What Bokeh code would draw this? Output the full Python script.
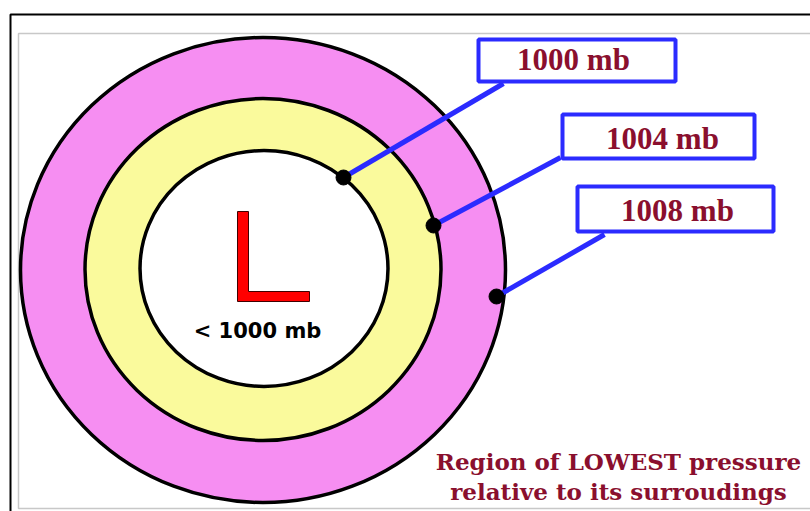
from bokeh.plotting import figure
from bokeh.models import Range1d
from bokeh.core.properties import value
from bokeh.embed import file_html
from bokeh.resources import INLINE

# ---- data (screen-like coordinates, y grows downward) ----
ring_names = ["1008 mb", "1004 mb", "1000 mb"]
ring_cx = [262.5, 262.5, 263.5]
ring_cy = [269.5, 269.0, 268.0]
ring_w = [485, 356, 248]
ring_h = [465, 342, 236]
ring_fill = ["#f68ef2", "#fafa9c", "#ffffff"]

label_text = ["1000 mb", "1004 mb", "1008 mb"]
box_left = [478, 562, 577]
box_right = [675, 754, 773]
box_top = [39, 114, 186]
box_bottom = [81, 158, 231]
label_x = [573, 662, 677]
label_y = [59, 138, 210]

dot_x = [343, 433, 496]
dot_y = [177, 225, 296]
leader_end_x = [503, 560, 604]
leader_end_y = [83, 157, 234]

L_x = [237, 248, 248, 309, 309, 237]
L_y = [211, 211, 291, 291, 301, 301]

center_label = "< 1000 mb"
caption = ["Region of LOWEST pressure", "relative to its surroudings"]
caption_x = [618, 618]
caption_y = [461, 491]

W, H = 810, 511
p = figure(width=W, height=H, output_backend="svg", toolbar_location=None,
           x_range=Range1d(0, W), y_range=Range1d(H, 0),
           min_border=0, outline_line_color=None,
           background_fill_color="white", border_fill_color="white")
p.axis.visible = False
p.grid.visible = False

# frames
p.quad(left=[18], right=[900], top=[33], bottom=[508], fill_color=None,
       line_color="#c8c8c8", line_width=1.5)
p.quad(left=[10], right=[900], top=[14], bottom=[600], fill_color=None,
       line_color="black", line_width=2)

# rings
p.ellipse(x=ring_cx, y=ring_cy, width=ring_w, height=ring_h,
          fill_color=ring_fill, line_color="black", line_width=3.5)

# leader lines
p.segment(x0=dot_x, y0=dot_y, x1=leader_end_x, y1=leader_end_y,
          line_color="#2b2bff", line_width=5)

# dots
p.scatter(x=dot_x, y=dot_y, size=15, fill_color="black", line_color="black")

# label boxes
p.quad(left=box_left, right=box_right, top=box_top, bottom=box_bottom,
       fill_color="white", line_color="#2b2bff", line_width=4)
p.text(x=label_x, y=label_y, text=label_text, text_align="center",
       text_baseline="middle", text_color="#8a0f2e",
       text_font=value("Liberation Serif"), text_font_style="bold",
       text_font_size="31px")

# L symbol
p.patch(x=L_x, y=L_y, fill_color="#ff0000", line_color="#400000", line_width=1)
p.text(x=[257], y=[330], text=[center_label], text_align="center",
       text_baseline="middle", text_color="black",
       text_font=value("DejaVu Sans"), text_font_style="bold",
       text_font_size="21px")

# caption
p.text(x=caption_x, y=caption_y, text=caption, text_align="center",
       text_baseline="middle", text_color="#8a0f2e",
       text_font=value("DejaVu Serif"), text_font_style="bold",
       text_font_size="23px")

open("out.html", "w").write(file_html(p, INLINE))
